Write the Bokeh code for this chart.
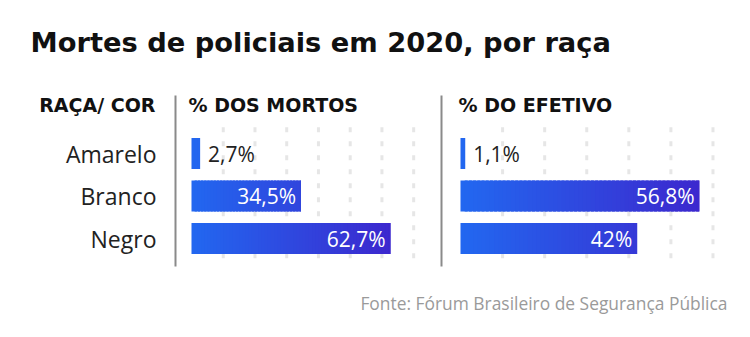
from bokeh.plotting import figure
from bokeh.models import Range1d, Label, ColumnDataSource
from bokeh.core.properties import value
from bokeh.embed import file_html
from bokeh.resources import INLINE

# ---- data ----
categories = ["Amarelo", "Branco", "Negro"]
pct_mortos = [2.7, 34.5, 62.7]
pct_efetivo = [1.1, 56.8, 42.0]
title_text = "Mortes de policiais em 2020, por raça"
header_cat = "RAÇA/ COR"
header_mortos = "% DOS MORTOS"
header_efetivo = "% DO EFETIVO"
source_text = "Fonte: Fórum Brasileiro de Segurança Pública"

W, H = 750, 337
FONT = "Open Sans"
BOLD_FONT = "DejaVu Sans"

# pixel geometry of panels
L0, LK = 191.0, 3.174   # left panel origin (px) and px per %
R0, RK = 460.0, 4.208   # right panel origin (px) and px per %
ROW0, PITCH = 153.0, 42.5

def lx(px):
    return (px - L0) / LK

def rx(px):
    return (px - R0) / RK

def ry(py):
    return (py - ROW0) / PITCH

p = figure(width=W, height=H, output_backend="svg", toolbar_location=None,
           x_axis_location=None, y_axis_location=None, min_border=0,
           x_range=Range1d(lx(0), lx(W)), y_range=Range1d(ry(H), ry(0)))
p.extra_x_ranges = {"right": Range1d(rx(0), rx(W))}
p.outline_line_color = None
p.grid.visible = False
p.background_fill_color = "white"
p.border_fill_color = "white"

idx = list(range(len(categories)))

def fmt(v):
    return f"{v:g}".replace(".", ",") + "%"

def lerp(c0, c1, t):
    t = max(0.0, min(1.0, t))
    return "#%02x%02x%02x" % tuple(int(round(a + (b - a) * t)) for a, b in zip(c0, c1))

C0 = (0x22, 0x68, 0xf0)
C1 = (0x3c, 0x28, 0xce)

def draw_panel(vals, rng, gridmax):
    kw = {} if rng is None else {"x_range_name": rng}
    # faint dotted grid
    gx = list(range(10, gridmax + 1, 10))
    p.segment(x0=gx, x1=gx, y0=[-0.62] * len(gx), y1=[2.55] * len(gx),
              line_color="#e6e6e6", line_width=3, line_dash="5 9", **kw)
    # gradient bars (drawn as overlapping slices so no seams show)
    vmax = max(vals)
    lefts, rights, ys, cols = [], [], [], []
    step = 1.0
    for i, v in zip(idx, vals):
        a = 0.0
        while a < v - 1e-9:
            b = min(v, a + step)
            lefts.append(a)
            rights.append(min(v, b + step * 0.7))
            ys.append(i)
            cols.append(lerp(C0, C1, ((a + b) / 2) / vmax))
            a = b
    p.hbar(y=ys, left=lefts, right=rights, height=0.73, fill_color=cols,
           line_color=None, **kw)
    # value labels
    inside = [v >= 10 for v in vals]
    src_in = ColumnDataSource(dict(x=[v for v, f in zip(vals, inside) if f],
                                   y=[i for i, f in zip(idx, inside) if f],
                                   t=[fmt(v) for v, f in zip(vals, inside) if f]))
    src_out = ColumnDataSource(dict(x=[v for v, f in zip(vals, inside) if not f],
                                    y=[i for i, f in zip(idx, inside) if not f],
                                    t=[fmt(v) for v, f in zip(vals, inside) if not f]))
    p.text(x="x", y="y", text="t", source=src_in, x_offset=-5, text_align="right",
           text_baseline="middle", text_color="white", text_font=value(FONT),
           text_font_size="21px", **kw)
    p.text(x="x", y="y", text="t", source=src_out, x_offset=8, text_align="left",
           text_baseline="middle", text_color="#222222", text_font=value(FONT),
           text_font_size="21px", **kw)

draw_panel(pct_mortos, None, 70)
draw_panel(pct_efetivo, "right", 60)

# category labels
p.text(x=[lx(156)] * len(idx), y=idx, text=categories, text_align="right",
       text_baseline="middle", text_color="#222222", text_font=value(FONT),
       text_font_size="23px")

# separators
p.segment(x0=[lx(175), lx(441)], x1=[lx(175), lx(441)], y0=[ry(95)] * 2, y1=[ry(266)] * 2,
          line_color="#8a8a8a", line_width=2)

def label(x, y, text, size, font=FONT, bold=False, align="left", color="#111111"):
    p.add_layout(Label(x=x, y=H - y, x_units="screen", y_units="screen", text=text,
                       text_font=font, text_font_size=size,
                       text_font_style="bold" if bold else "normal",
                       text_align=align, text_baseline="middle", text_color=color))

label(30, 42, title_text, "27.3px", font=BOLD_FONT, bold=True, color="#111111")
label(155, 104, header_cat, "19px", font=BOLD_FONT, bold=True, align="right")
label(188, 104, header_mortos, "19px", font=BOLD_FONT, bold=True)
label(458, 104, header_efetivo, "19px", font=BOLD_FONT, bold=True)
label(727, 302, source_text, "17.4px", align="right", color="#9a9a9a")

open("out.html", "w").write(file_html(p, INLINE))
